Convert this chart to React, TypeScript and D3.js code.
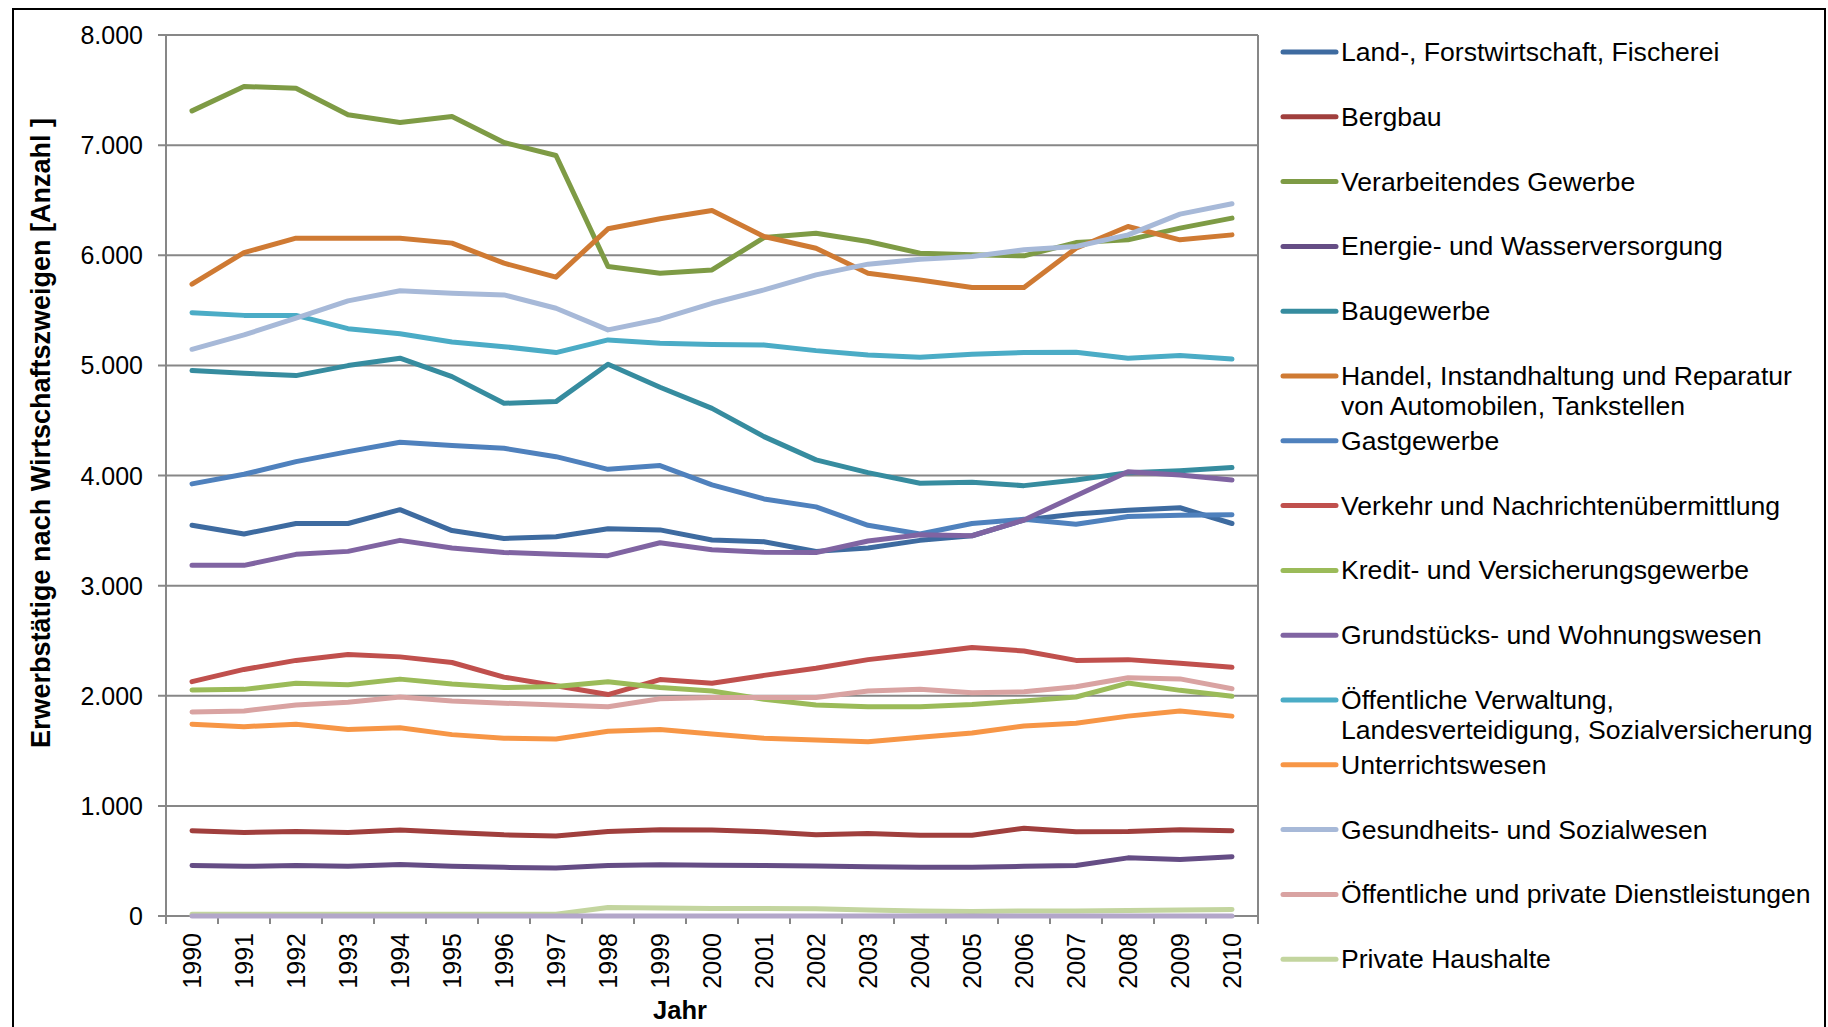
import React from "react";
import * as d3 from "d3";

const years = ["1990","1991","1992","1993","1994","1995","1996","1997","1998","1999","2000","2001","2002","2003","2004","2005","2006","2007","2008","2009","2010"];
const yTicks = [0, 1000, 2000, 3000, 4000, 5000, 6000, 7000, 8000];

const landForst = [3548,3469,3564,3564,3690,3500,3428,3443,3516,3506,3415,3399,3311,3342,3411,3453,3596,3650,3684,3707,3564];
const bergbau = [774,759,768,759,781,759,737,727,768,784,781,765,737,749,734,734,797,765,768,784,774];
const verarbeitend = [7311,7532,7517,7275,7206,7260,7024,6906,5898,5837,5867,6161,6200,6125,6019,6004,5995,6115,6140,6246,6337];
const energie = [458,451,458,451,468,451,442,436,458,465,461,458,455,448,442,442,451,458,528,512,538];
const baugewerbe = [4953,4928,4907,4998,5065,4898,4656,4671,5010,4801,4610,4353,4142,4026,3929,3938,3908,3960,4026,4044,4072];
const handel = [5737,6024,6155,6155,6155,6110,5928,5801,6240,6331,6406,6170,6064,5837,5776,5707,5707,6064,6261,6140,6185];
const gastgewerbe = [3924,4011,4126,4217,4302,4272,4247,4171,4056,4090,3915,3787,3715,3548,3469,3564,3602,3557,3628,3640,3643];
const verkehr = [2128,2239,2321,2375,2353,2302,2169,2090,2011,2147,2113,2185,2249,2328,2381,2439,2407,2321,2328,2296,2258];
const kredit = [2053,2058,2113,2100,2151,2106,2074,2083,2128,2074,2043,1969,1916,1900,1900,1921,1953,1989,2115,2049,1995];
const grundstuecks = [3184,3184,3284,3311,3411,3342,3301,3284,3272,3389,3326,3304,3301,3405,3462,3453,3596,3817,4035,4005,3960];
const oeffVerwaltung = [5478,5454,5454,5333,5288,5212,5170,5116,5231,5201,5190,5186,5134,5095,5074,5100,5116,5119,5065,5089,5057];
const unterricht = [1742,1719,1742,1694,1710,1647,1615,1608,1678,1694,1653,1615,1599,1583,1624,1662,1726,1751,1815,1862,1815];
const gesundheit = [5146,5277,5428,5586,5677,5656,5640,5519,5322,5419,5564,5686,5822,5919,5964,5988,6049,6079,6185,6373,6467];
const oeffPrivat = [1853,1862,1916,1941,1989,1953,1932,1916,1900,1973,1985,1985,1985,2043,2058,2027,2036,2081,2163,2153,2064];
const privHaushalte = [15,15,15,15,15,15,15,15,78,72,69,69,65,55,46,40,46,46,50,55,60];
const exterritorial = [0,0,0,0,0,0,0,0,0,0,0,0,0,0,0,0,0,0,0,0,0];

const seriesNames = [
  ["Land-, Forstwirtschaft, Fischerei"],
  ["Bergbau"],
  ["Verarbeitendes Gewerbe"],
  ["Energie- und Wasserversorgung"],
  ["Baugewerbe"],
  ["Handel, Instandhaltung und Reparatur", "von Automobilen, Tankstellen"],
  ["Gastgewerbe"],
  ["Verkehr und Nachrichtenübermittlung"],
  ["Kredit- und Versicherungsgewerbe"],
  ["Grundstücks- und Wohnungswesen"],
  ["Öffentliche Verwaltung,", "Landesverteidigung, Sozialversicherung"],
  ["Unterrichtswesen"],
  ["Gesundheits- und Sozialwesen"],
  ["Öffentliche und private Dienstleistungen"],
  ["Private Haushalte"],
];
const seriesValues = [landForst, bergbau, verarbeitend, energie, baugewerbe, handel, gastgewerbe, verkehr, kredit, grundstuecks, oeffVerwaltung, unterricht, gesundheit, oeffPrivat, privHaushalte];
const seriesColors = ["#3E6BA0","#A03F3D","#7E9B45","#654D85","#368C9F","#CF7A33","#4F81BD","#C0504D","#9BBB59","#8064A2","#4BACC6","#F79646","#A7B9D8","#D9A3A2","#C3D59F"];
const hiddenColor = "#B3A7C9";

const FONT = "'Liberation Sans', Arial, sans-serif";

export default function App() {
  const left = 166, right = 1258, top = 35, bottom = 916;
  const x = d3.scaleBand<string>().domain(years).range([left, right]);
  const cx = (yr: string) => (x(yr) as number) + x.bandwidth() / 2;
  const y = d3.scaleLinear().domain([0, 8000]).range([bottom, top]);
  const de = d3.formatLocale({ decimal: ",", thousands: ".", grouping: [3], currency: ["", "€"] });
  const fmt = de.format(",");
  const line = (vals: number[]) =>
    d3.line<number>().x((_, i) => cx(years[i])).y((v) => y(v))(vals) as string;
  const grid = "#878787";
  const boundaries = years.map((yr) => x(yr) as number).concat([right]);

  return (
    <svg width={1828} height={1027} style={{ position: "absolute", left: 0, top: 0, background: "#fff" }} fontFamily={FONT}>
      <rect x={0} y={0} width={1828} height={1027} fill="#fff" />
      <rect x={13} y={9} width={1812} height={1040} fill="none" stroke="#000" strokeWidth={2} />
      {yTicks.map((t) => (
        <g key={t}>
          <line x1={left - 8} x2={right} y1={y(t)} y2={y(t)} stroke={grid} strokeWidth={2} />
          <text x={143} y={y(t)} dy="0.36em" textAnchor="end" fontSize={25} fill="#000">{fmt(t)}</text>
        </g>
      ))}
      <line x1={left} x2={left} y1={top} y2={bottom} stroke={grid} strokeWidth={2} />
      <line x1={right} x2={right} y1={top} y2={bottom} stroke={grid} strokeWidth={2} />
      {boundaries.map((b, i) => (
        <line key={i} x1={b} x2={b} y1={bottom} y2={bottom + 8} stroke={grid} strokeWidth={2} />
      ))}
      {years.map((yr) => (
        <text key={yr} transform={`translate(${cx(yr)},933) rotate(-90)`} dy="0.36em" textAnchor="end" fontSize={25} fill="#000">{yr}</text>
      ))}
      <text transform="translate(40,433) rotate(-90)" dy="0.36em" textAnchor="middle" fontSize={27} fontWeight="bold" fill="#000">Erwerbstätige nach Wirtschaftszweigen [Anzahl ]</text>
      <text x={680} y={1019} textAnchor="middle" fontSize={25.5} fontWeight="bold" fill="#000">Jahr</text>
      {seriesValues.map((vals, i) => (
        <path key={i} d={line(vals)} fill="none" stroke={seriesColors[i]} strokeWidth={5} strokeLinejoin="round" strokeLinecap="round" />
      ))}
      <path d={line(exterritorial)} fill="none" stroke={hiddenColor} strokeWidth={5} strokeLinejoin="round" strokeLinecap="round" />
      {seriesNames.map((lines, i) => {
        const ly = 52 + i * 64.8;
        return (
          <g key={i}>
            <line x1={1283} x2={1336} y1={ly} y2={ly} stroke={seriesColors[i]} strokeWidth={5} strokeLinecap="round" />
            {lines.map((t, j) => (
              <text key={j} x={1341} y={ly + 9 + j * 30} fontSize={26.6} fill="#000">{t}</text>
            ))}
          </g>
        );
      })}
    </svg>
  );
}
